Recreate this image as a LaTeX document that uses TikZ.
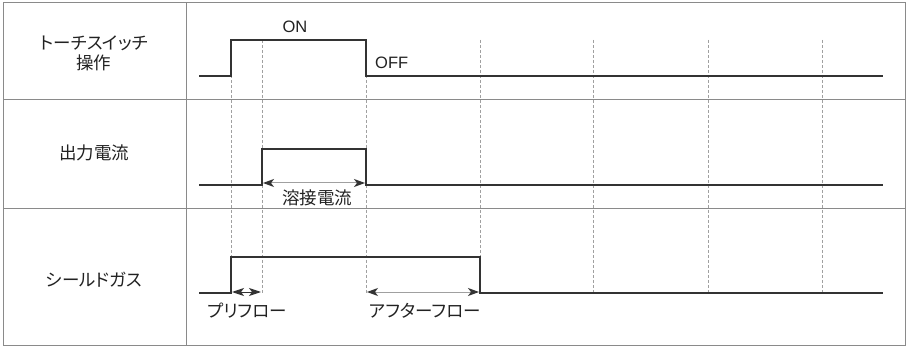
\documentclass[tikz,border=0pt]{standalone}
\usepackage{fontspec}
\setmainfont{Liberation Sans}
\newfontfamily\jp[RawFeature=+palt]{Noto Sans CJK JP}
\usetikzlibrary{arrows.meta}
\definecolor{wave}{HTML}{333333}
\definecolor{frame}{HTML}{8A8A8A}
\definecolor{guide}{HTML}{A0A0A0}
\definecolor{txt}{HTML}{222222}
\begin{document}
\begin{tikzpicture}[x=1pt,y=-1pt,
  framebox/.style={draw=frame,line width=1pt},
  wavepath/.style={draw=wave,line width=2.2pt,line join=miter},
  guideline/.style={draw=guide,line width=0.9pt,dash pattern=on 3pt off 2pt},
  dimarrow/.style={draw=guide,line width=1pt,{Stealth[length=11pt,width=8pt,inset=3pt,color=wave]}-{Stealth[length=11pt,width=8pt,inset=3pt,color=wave]}},
  dimarrowsmall/.style={draw=wave,line width=1pt,{Stealth[length=12pt,width=8pt,inset=3pt]}-{Stealth[length=12pt,width=8pt,inset=3pt]}},
  jplabel/.style={text=txt,font=\jp\fontsize{17.5}{20}\selectfont,inner sep=0pt,align=center},
  enlabel/.style={text=txt,font=\fontsize{16.5}{18}\selectfont,inner sep=0pt}]
\useasboundingbox (0,0) rectangle (907,347);
\fill[white] (0,0) rectangle (907,347);
% frame
\draw[framebox] (3.5,3) rectangle (905.5,345);
\draw[framebox] (3.5,100) -- (905.5,100);
\draw[framebox] (3.5,209) -- (905.5,209);
\draw[framebox] (186,3) -- (186,345);
% guide coordinates
\foreach \n/\x in {a/231,b/262,c/366,d/480,e/593,f/708,g/822}{
  \coordinate (top\n) at (\x,40);
}
\coordinate (bota) at (231,257);
\foreach \n/\x in {b/262,c/366,d/480,e/593,f/708,g/822}{
  \coordinate (bot\n) at (\x,293);
}
\foreach \n in {a,b,c,d,e,f,g}{
  \draw[guideline] (top\n) -- (bot\n);
}
% torch switch wave
\coordinate (t0) at (199,76);
\coordinate (t1) at (883,76);
\draw[wavepath] (t0) -- (231,76) -- (231,40) -- (366,40) -- (366,76) -- (t1);
% current wave
\coordinate (c0) at (199,185);
\coordinate (c1) at (883,185);
\draw[wavepath] (c0) -- (262,185) -- (262,149) -- (366,149) -- (366,185) -- (c1);
% gas wave
\coordinate (g0) at (199,293);
\coordinate (g1) at (883,293);
\draw[wavepath] (g0) -- (231,293) -- (231,257) -- (480,257) -- (480,293) -- (g1);
% arrows
\coordinate (wl) at (263,183);
\coordinate (wr) at (365,183);
\draw[dimarrow] (wl) -- (wr);
\coordinate (pl) at (232,292);
\coordinate (pr) at (261,292);
\draw[dimarrowsmall] (pl) -- (pr);
\coordinate (al) at (367,292);
\coordinate (ar) at (479,292);
\draw[dimarrow] (al) -- (ar);
% labels
\node[jplabel] (l1) at (94,53) {トーチスイッチ\\操作};
\node[jplabel] (l2) at (94,153) {出力電流};
\node[jplabel] (l3) at (94,280) {シールドガス};
\node[enlabel] (on) at (295,27) {ON};
\node[enlabel,anchor=west] (off) at (375,63) {OFF};
\node[jplabel] (weld) at (317,198) {溶接電流};
\node[jplabel] (pre) at (247,311) {プリフロー};
\node[jplabel] (after) at (425,311) {アフターフロー};
\end{tikzpicture}
\end{document}
